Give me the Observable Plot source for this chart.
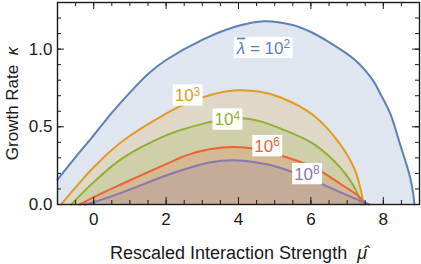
<!DOCTYPE html>
<html><head><meta charset="utf-8">
<script src="https://cdn.jsdelivr.net/npm/d3@7"></script>
<script src="https://cdn.jsdelivr.net/npm/@observablehq/plot@0.6"></script>
<style>body{margin:0;background:#fff} svg{display:block}</style>
</head><body><div id="chart"></div>
<script>
// Series values (x = rescaled interaction strength, y = growth rate)
const x1e2 = [-1, -0.5, 0, 0.5, 1, 1.5, 2, 3, 4, 4.7, 5.5, 6.0, 6.5, 7.22, 7.71, 7.91, 8.2, 8.46, 8.65, 8.74, 8.82, 8.86];
const y1e2 = [0.16, 0.305, 0.445, 0.59, 0.72, 0.84, 0.93, 1.06, 1.15, 1.18, 1.155, 1.11, 1.045, 0.93, 0.80, 0.716, 0.58, 0.39, 0.25, 0.176, 0.08, 0];
const x1e3 = [-0.9, -0.5, 0, 0.81, 2.0, 2.6, 3.3, 3.96, 4.6, 5.15, 6.07, 6.8, 7.22, 7.4, 7.45];
const y1e3 = [0, 0.11, 0.24, 0.41, 0.585, 0.655, 0.71, 0.735, 0.725, 0.69, 0.574, 0.39, 0.22, 0.07, 0];
const x1e4 = [-0.62, 0, 0.81, 2.0, 2.56, 3.3, 4.05, 4.6, 5.15, 6.07, 6.8, 7.27, 7.38];
const y1e4 = [0, 0.144, 0.30, 0.445, 0.49, 0.535, 0.555, 0.535, 0.49, 0.39, 0.24, 0.08, 0];
const x1e6 = [-0.38, 0, 0.81, 2.0, 2.56, 3.2, 3.9, 4.5, 5.15, 6.07, 6.8, 7.35, 7.5];
const y1e6 = [0, 0.047, 0.135, 0.26, 0.316, 0.355, 0.37, 0.355, 0.316, 0.24, 0.135, 0.047, 0];
const x1e8 = [-0.25, 0, 0.81, 2.0, 2.56, 3.2, 3.85, 4.5, 5.15, 6.07, 6.8, 7.45, 7.62];
const y1e8 = [0, 0.015, 0.08, 0.187, 0.23, 0.27, 0.284, 0.27, 0.237, 0.155, 0.08, 0.015, 0];

const seriesX = [x1e2, x1e3, x1e4, x1e6, x1e8];
const seriesY = [y1e2, y1e3, y1e4, y1e6, y1e8];
const colors = ["#5E81B5", "#E19C24", "#8FB032", "#EB6235", "#8778B3"];

// Curve labels
const labelText = ["λ = 10^2", "10^3", "10^4", "10^6", "10^8"];
const labelX = [4.69, 2.59, 3.69, 4.79, 5.89];
const labelY = [1.006, 0.70, 0.545, 0.374, 0.194];

// Ticks
const xTicks = [0, 2, 4, 6, 8];
const xMinor = d3.range(-1, 9.001, 0.5);
const yTicks = [0, 0.5, 1.0];
const yMinor = d3.range(0, 1.3001, 0.1);

const xTitle = "Rescaled Interaction Strength  μ̂";
const yTitle = "Growth Rate  κ";

const W = 421, H = 264, ML = 57, MR = 2, MT = 2, MB = 60;
const FW = W - ML - MR, FH = H - MT - MB;
const majorLen = 7, minorLen = 4;
const ink = "#1a1a1a";
const font = "'Liberation Sans', Arial, sans-serif";
const curve = "catmull-rom";

const marks = [];
seriesX.forEach((xs, i) => {
  const data = xs.map((x, j) => ({x, y: seriesY[i][j]}));
  marks.push(Plot.areaY(data, {x: "x", y: "y", fill: colors[i], fillOpacity: 0.2, curve}));
});
seriesX.forEach((xs, i) => {
  const data = xs.map((x, j) => ({x, y: seriesY[i][j]}));
  marks.push(Plot.lineY(data, {x: "x", y: "y", stroke: colors[i], strokeWidth: 2, curve}));
});
// inward ticks on all four sides
const tk = {stroke: ink, strokeWidth: 1};
marks.push(
  Plot.ruleX(xMinor, {x: d => d, insetTop: FH - minorLen, ...tk}),
  Plot.ruleX(xMinor, {x: d => d, insetBottom: FH - minorLen, ...tk}),
  Plot.ruleX(xTicks, {x: d => d, insetTop: FH - majorLen, ...tk}),
  Plot.ruleX(xTicks, {x: d => d, insetBottom: FH - majorLen, ...tk}),
  Plot.ruleY(yMinor, {y: d => d, insetRight: FW - minorLen, ...tk}),
  Plot.ruleY(yMinor, {y: d => d, insetLeft: FW - minorLen, ...tk}),
  Plot.ruleY(yTicks, {y: d => d, insetRight: FW - majorLen, ...tk}),
  Plot.ruleY(yTicks, {y: d => d, insetLeft: FW - majorLen, ...tk}),
  Plot.frame({stroke: ink, strokeWidth: 1.4}),
  Plot.axisX(xTicks, {tickSize: 0, tickPadding: 8, label: null, fontSize: 17, fill: ink}),
  Plot.axisY(yTicks, {tickSize: 0, tickPadding: 5, label: null, tickFormat: d3.format(".1f"), fontSize: 17, fill: ink}),
  Plot.text(labelText, {x: (d, i) => labelX[i], y: (d, i) => labelY[i], text: d => d, fill: (d, i) => colors[i], fontSize: 17}),
  Plot.text([xTitle], {frameAnchor: "bottom", dy: 54, textAnchor: "middle", text: d => d, fontSize: 18, fill: ink}),
  Plot.text([yTitle], {frameAnchor: "left", dx: -45, rotate: -90, textAnchor: "middle", text: d => d, fontSize: 17, fill: ink})
);

const chart = Plot.plot({
  width: W, height: H,
  marginLeft: ML, marginRight: MR, marginTop: MT, marginBottom: MB,
  style: {fontFamily: font, fontSize: "17px", background: "#fff", color: ink},
  x: {domain: [-1, 9]},
  y: {domain: [0, 1.3]},
  marks
});
document.getElementById("chart").append(chart);

// rich text: superscripts, italics, white label boxes
const NS = "http://www.w3.org/2000/svg";
function tsp(parent, str, attrs = {}) {
  const t = document.createElementNS(NS, "tspan");
  t.textContent = str;
  for (const k in attrs) t.setAttribute(k, attrs[k]);
  parent.appendChild(t);
  return t;
}
chart.querySelectorAll("text").forEach(el => {
  const s = el.textContent;
  if (s.includes("^")) {
    const [base, exp] = s.split("^");
    el.textContent = "";
    if (base.startsWith("λ")) {
      tsp(el, "λ", {"font-style": "italic", "text-decoration": "overline"});
      tsp(el, base.slice(1));
    } else tsp(el, base);
    tsp(el, exp, {dy: "-0.45em", "font-size": "0.7em"});
    const b = el.getBBox();
    const r = document.createElementNS(NS, "rect");
    r.setAttribute("x", b.x - 2); r.setAttribute("y", b.y - 0.5);
    r.setAttribute("width", b.width + 4); r.setAttribute("height", b.height + 1);
    r.setAttribute("fill", "#fff");
    if (el.getAttribute("transform")) r.setAttribute("transform", el.getAttribute("transform"));
    el.parentNode.insertBefore(r, el);
  } else if (s === xTitle || s === yTitle) {
    const k = s.lastIndexOf("  ");
    el.textContent = "";
    tsp(el, s.slice(0, k + 2));
    tsp(el, s.slice(k + 2), {"font-style": "italic"});
  }
});
</script>
</body></html>
